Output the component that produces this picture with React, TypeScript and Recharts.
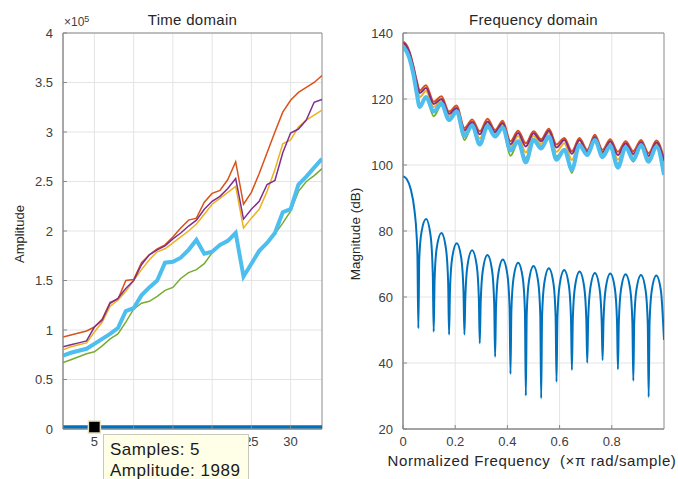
import React from 'react';
import {
  LineChart,
  Line,
  XAxis,
  YAxis,
  CartesianGrid,
  Tooltip,
  ReferenceDot,
  ReferenceArea,
} from 'recharts';

const FONT = '"Liberation Sans", Arial, Helvetica, sans-serif';

// ---------------- Time domain (amplitude in units of 1e5) ----------------
const samples = [1, 2, 3, 4, 5, 6, 7, 8, 9, 10, 11, 12, 13, 14, 15, 16, 17, 18, 19, 20, 21, 22, 23, 24, 25, 26, 27, 28, 29, 30, 31, 32, 33, 34];
const AMP_SCALE = 100000;
const orangeT = [0.93, 0.95, 0.97, 0.99, 1.03, 1.11, 1.28, 1.31, 1.5, 1.51, 1.68, 1.76, 1.82, 1.86, 1.94, 2.03, 2.11, 2.13, 2.29, 2.38, 2.41, 2.52, 2.7, 2.27, 2.39, 2.58, 2.79, 3.0, 3.2, 3.32, 3.4, 3.45, 3.5, 3.57];
const purpleT = [0.83, 0.85, 0.87, 0.89, 1.03, 1.1, 1.27, 1.32, 1.42, 1.5, 1.66, 1.76, 1.81, 1.85, 1.92, 1.98, 2.05, 2.11, 2.22, 2.3, 2.35, 2.43, 2.53, 2.12, 2.22, 2.3, 2.47, 2.51, 2.79, 2.99, 3.03, 3.12, 3.3, 3.33];
const yellowT = [0.8, 0.83, 0.85, 0.87, 0.98, 1.08, 1.24, 1.3, 1.39, 1.5, 1.61, 1.71, 1.79, 1.82, 1.88, 1.94, 2.0, 2.07, 2.17, 2.27, 2.33, 2.39, 2.45, 2.03, 2.13, 2.22, 2.4, 2.62, 2.88, 2.92, 3.05, 3.12, 3.17, 3.22];
const cyanT = [0.74, 0.77, 0.79, 0.81, 0.86, 0.91, 0.96, 1.02, 1.19, 1.22, 1.35, 1.43, 1.5, 1.68, 1.69, 1.73, 1.81, 1.91, 1.77, 1.79, 1.86, 1.9, 1.98, 1.54, 1.67, 1.8, 1.88, 1.98, 2.19, 2.22, 2.47, 2.55, 2.64, 2.73];
const greenT = [0.67, 0.7, 0.73, 0.76, 0.78, 0.84, 0.91, 0.96, 1.08, 1.21, 1.27, 1.29, 1.34, 1.4, 1.43, 1.52, 1.58, 1.61, 1.67, 1.78, 1.85, 1.91, 1.96, 1.55, 1.67, 1.78, 1.88, 1.97, 2.08, 2.2, 2.4, 2.5, 2.56, 2.63];
const blueT = [1989, 1989, 1989, 1989, 1989, 1989, 1989, 1989, 1989, 1989, 1989, 1989, 1989, 1989, 1989, 1989, 1989, 1989, 1989, 1989, 1989, 1989, 1989, 1989, 1989, 1989, 1989, 1989, 1989, 1989, 1989, 1989, 1989, 1989];

const timeTicksX = [5, 10, 15, 20, 25, 30];
const ampTicks = [0, 50000, 100000, 150000, 200000, 250000, 300000, 350000, 400000];

const timeData = samples.map((n, i) => ({
  n,
  orange: Math.round(orangeT[i] * AMP_SCALE),
  yellow: Math.round(yellowT[i] * AMP_SCALE),
  purple: Math.round(purpleT[i] * AMP_SCALE),
  green: Math.round(greenT[i] * AMP_SCALE),
  cyan: Math.round(cyanT[i] * AMP_SCALE),
  blue: blueT[i],
}));

// ---------------- Frequency domain (dB) ----------------
const freqX = [0, 0.012, 0.025, 0.04, 0.052, 0.064, 0.088, 0.1176, 0.147, 0.1765, 0.206, 0.2353, 0.265, 0.2941, 0.324, 0.3529, 0.382, 0.4118, 0.441, 0.4706, 0.5, 0.5294, 0.559, 0.5882, 0.618, 0.6471, 0.676, 0.7059, 0.735, 0.7647, 0.794, 0.8235, 0.853, 0.8824, 0.912, 0.9412, 0.971, 1.0];
const orangeF = [137.4, 136.6, 134.4, 130.0, 125.8, 122.6, 124.2, 119.2, 120.8, 116.2, 118.0, 111.2, 113.8, 110.2, 114.0, 110.6, 113.4, 107.2, 110.4, 106.6, 110.2, 107.8, 111.0, 106.2, 108.2, 104.2, 108.2, 104.6, 109.2, 104.6, 107.8, 104.0, 107.2, 104.2, 107.6, 103.6, 107.4, 102.0];
const purpleF = [137.0, 136.2, 134.0, 129.5, 125.2, 121.8, 123.3, 118.5, 120.0, 115.5, 117.3, 110.5, 113.0, 109.3, 113.2, 110.0, 112.7, 106.3, 109.7, 105.6, 109.6, 107.2, 110.4, 105.3, 107.6, 103.4, 107.6, 104.0, 108.5, 103.9, 107.2, 103.0, 106.6, 103.4, 107.0, 102.8, 106.8, 101.2];
const yellowF = [136.6, 135.8, 133.4, 128.8, 124.4, 120.6, 122.4, 117.6, 119.4, 114.8, 116.8, 109.8, 112.8, 108.0, 112.8, 109.6, 112.2, 105.6, 108.8, 103.8, 108.8, 106.4, 109.8, 104.0, 106.6, 101.5, 107.4, 103.8, 108.4, 103.6, 106.8, 101.6, 106.2, 103.0, 106.8, 102.4, 106.4, 100.0];
const greenF = [135.8, 135.0, 132.6, 127.8, 122.4, 118.2, 120.6, 114.8, 118.2, 113.4, 116.0, 107.6, 112.0, 106.6, 111.6, 108.8, 111.4, 102.8, 107.0, 102.0, 107.8, 105.6, 108.4, 102.6, 104.8, 97.6, 106.4, 103.4, 107.6, 103.4, 105.8, 100.2, 105.2, 101.0, 105.8, 101.6, 105.8, 98.5];
const cyanF = [135.6, 134.6, 132.2, 127.4, 122.0, 117.6, 120.6, 116.2, 118.6, 113.6, 116.2, 108.8, 112.0, 106.2, 111.8, 108.6, 111.4, 104.4, 107.2, 100.8, 107.6, 105.0, 108.6, 101.6, 104.6, 98.6, 106.0, 103.0, 107.6, 102.4, 105.8, 99.2, 105.4, 101.6, 106.0, 101.0, 105.6, 97.0];

const blueFreqX = [
  0, 0.0147, 0.0294, 0.0441, 0.0518, 0.0553, 0.0588,
  0.0623, 0.0706, 0.0882, 0.1058, 0.1141, 0.1176,
  0.1211, 0.1294, 0.1471, 0.1647, 0.173, 0.1765,
  0.18, 0.1883, 0.2059, 0.2235, 0.2318, 0.2353,
  0.2388, 0.2471, 0.2647, 0.2824, 0.2906, 0.2941,
  0.2976, 0.3059, 0.3235, 0.3412, 0.3494, 0.3529,
  0.3564, 0.3647, 0.3824, 0.4, 0.4083, 0.4118,
  0.4153, 0.4236, 0.4412, 0.4588, 0.4671, 0.4706,
  0.4741, 0.4824, 0.5, 0.5176, 0.5259, 0.5294,
  0.5329, 0.5412, 0.5588, 0.5765, 0.5847, 0.5882,
  0.5917, 0.6, 0.6176, 0.6353, 0.6436, 0.6471,
  0.6506, 0.6589, 0.6765, 0.6941, 0.7024, 0.7059,
  0.7094, 0.7177, 0.7353, 0.7529, 0.7612, 0.7647,
  0.7682, 0.7765, 0.7941, 0.8118, 0.82, 0.8235,
  0.827, 0.8353, 0.8529, 0.8706, 0.8789, 0.8824,
  0.8859, 0.8941, 0.9118, 0.9294, 0.9377, 0.9412,
  0.9447, 0.9529, 0.9706, 0.9882, 1.0,
];
const blueFreqY = [
  96.6, 95.7, 92.7, 86.2, 79.1, 72.6, 50.5,
  71.5, 79.5, 83.6, 78.5, 67.0, 49.5,
  65.5, 75.0, 79.4, 74.6, 64.4, 48.6,
  62.0, 71.8, 76.3, 71.6, 61.6, 48.6,
  59.8, 69.6, 74.2, 69.6, 59.6, 46.0,
  58.3, 68.1, 72.7, 68.1, 58.1, 41.9,
  57.0, 66.8, 71.4, 66.8, 56.8, 36.7,
  56.0, 65.8, 70.4, 65.8, 55.8, 30.1,
  55.0, 64.8, 69.4, 64.8, 54.8, 29.3,
  54.3, 64.1, 68.7, 64.1, 54.1, 34.3,
  53.8, 63.6, 68.2, 63.6, 53.6, 37.9,
  53.3, 63.1, 67.7, 63.1, 53.1, 40.1,
  52.9, 62.7, 67.3, 62.7, 52.7, 40.9,
  52.7, 62.5, 67.1, 62.5, 52.5, 38.1,
  52.5, 62.3, 66.9, 62.3, 52.3, 34.6,
  52.3, 62.1, 66.7, 62.1, 52.1, 29.7,
  52.1, 61.9, 66.5, 61.9, 47.0,
];

const freqTicksX = [0, 0.2, 0.4, 0.6, 0.8];
const dbTicks = [20, 40, 60, 80, 100, 120, 140];

const freqData = freqX.map((f, i) => ({
  f,
  orange: orangeF[i],
  yellow: yellowF[i],
  purple: purpleF[i],
  green: greenF[i],
  cyan: cyanF[i],
}));
const blueFreqData = blueFreqX.map((f, i) => ({ f, v: blueFreqY[i] }));

// ---------------- styling ----------------
const C = {
  blue: '#0072BD',
  orange: '#D95319',
  yellow: '#EDB120',
  purple: '#7E2F8E',
  green: '#77AC30',
  cyan: '#4DBEEE',
};
const AXIS = '#8a8a8a';
const GRID = '#e4e4e4';
const TICK = { fill: '#404040', fontSize: 13, fontFamily: FONT };

const EmptyTick = () => <g />;

const SquareMarker = (props: any) => {
  const { cx, cy } = props;
  if (cx == null || cy == null) return <g />;
  return (
    <rect x={cx - 6} y={cy - 6} width={12} height={12} fill="#000" stroke="#e6dfc2" strokeWidth={1.5} />
  );
};

const DataTip = (props: any) => {
  const { active, payload, label } = props;
  if (!active || !payload || !payload.length) return null;
  const b = payload.find((p: any) => p.dataKey === 'blue');
  return (
    <div
      style={{
        background: '#FFFFE8',
        border: '1px solid #c9c9b8',
        width: 146,
        height: 52,
        boxSizing: 'border-box',
        padding: '4px 0 0 6px',
        fontFamily: FONT,
        fontSize: 17,
        letterSpacing: 0.5,
        lineHeight: '21px',
        color: '#1a1a1a',
        whiteSpace: 'nowrap',
      }}
    >
      <div>Samples: {label}</div>
      <div>Amplitude: {b ? b.value : ''}</div>
    </div>
  );
};

const textBase: React.CSSProperties = {
  position: 'absolute',
  fontFamily: FONT,
  color: '#262626',
  whiteSpace: 'nowrap',
};

export default function App() {
  return (
    <div style={{ position: 'absolute', left: 0, top: 0, width: 678, height: 479, background: '#fff', overflow: 'hidden' }}>
      {/* Left: time domain */}
      <div style={{ position: 'absolute', left: 0, top: 0 }}>
        <LineChart width={340} height={479} data={timeData} margin={{ top: 33, right: 18, bottom: 0, left: 0 }}>
          <CartesianGrid stroke={GRID} verticalValues={timeTicksX} horizontalValues={ampTicks} />
          <XAxis
            dataKey="n"
            type="number"
            domain={[1, 34]}
            ticks={timeTicksX}
            interval={0}
            allowDataOverflow
            height={50}
            tickSize={-4}
            tickMargin={12}
            stroke={AXIS}
            tick={TICK}
          />
          <XAxis
            xAxisId="top"
            orientation="top"
            type="number"
            domain={[1, 34]}
            ticks={timeTicksX}
            interval={0}
            allowDataOverflow
            height={0}
            tickSize={-4}
            axisLine={false}
            stroke={AXIS}
            tick={EmptyTick}
          />
          <YAxis
            type="number"
            domain={[0, 400000]}
            ticks={ampTicks}
            interval={0}
            allowDataOverflow
            width={63}
            tickSize={-4}
            tickMargin={14}
            stroke={AXIS}
            tick={TICK}
            tickFormatter={(v: number) => String(v / AMP_SCALE)}
          />
          <YAxis
            yAxisId="right"
            orientation="right"
            type="number"
            domain={[0, 400000]}
            ticks={ampTicks}
            interval={0}
            allowDataOverflow
            width={0}
            tickSize={-4}
            axisLine={false}
            stroke={AXIS}
            tick={EmptyTick}
          />
          <ReferenceArea x1={1} x2={34} y1={0} y2={400000} fill="none" stroke={AXIS} strokeWidth={1} />
          <Line type="linear" dataKey="orange" stroke={C.orange} strokeWidth={1.5} dot={false} activeDot={false} isAnimationActive={false} />
          <Line type="linear" dataKey="yellow" stroke={C.yellow} strokeWidth={1.5} dot={false} activeDot={false} isAnimationActive={false} />
          <Line type="linear" dataKey="purple" stroke={C.purple} strokeWidth={1.5} dot={false} activeDot={false} isAnimationActive={false} />
          <Line type="linear" dataKey="green" stroke={C.green} strokeWidth={1.5} dot={false} activeDot={false} isAnimationActive={false} />
          <Line type="linear" dataKey="cyan" stroke={C.cyan} strokeWidth={4} dot={false} activeDot={false} isAnimationActive={false} />
          <Line type="linear" dataKey="blue" stroke={C.blue} strokeWidth={3.5} dot={false} activeDot={false} isAnimationActive={false} />
          <ReferenceDot x={5} y={1989} shape={SquareMarker} />
          <Tooltip
            active
            defaultIndex={4}
            cursor={false}
            isAnimationActive={false}
            position={{ x: 103, y: 434 }}
            allowEscapeViewBox={{ x: true, y: true }}
            wrapperStyle={{ outline: 'none' }}
            content={DataTip}
          />
        </LineChart>
      </div>

      {/* Right: frequency domain */}
      <div style={{ position: 'absolute', left: 340, top: 0 }}>
        <LineChart width={338} height={479} data={freqData} margin={{ top: 33, right: 14, bottom: 0, left: 0 }}>
          <CartesianGrid stroke={GRID} verticalValues={freqTicksX} horizontalValues={dbTicks} />
          <XAxis
            dataKey="f"
            type="number"
            domain={[0, 1]}
            ticks={freqTicksX}
            interval={0}
            allowDataOverflow
            height={50}
            tickSize={-4}
            tickMargin={12}
            stroke={AXIS}
            tick={TICK}
            tickFormatter={(v: number) => String(v)}
          />
          <XAxis
            xAxisId="top"
            orientation="top"
            type="number"
            domain={[0, 1]}
            ticks={freqTicksX}
            interval={0}
            allowDataOverflow
            height={0}
            tickSize={-4}
            axisLine={false}
            stroke={AXIS}
            tick={EmptyTick}
          />
          <YAxis
            type="number"
            domain={[20, 140]}
            ticks={dbTicks}
            interval={0}
            allowDataOverflow
            width={63}
            tickSize={-4}
            tickMargin={14}
            stroke={AXIS}
            tick={TICK}
          />
          <YAxis
            yAxisId="right"
            orientation="right"
            type="number"
            domain={[20, 140]}
            ticks={dbTicks}
            interval={0}
            allowDataOverflow
            width={0}
            tickSize={-4}
            axisLine={false}
            stroke={AXIS}
            tick={EmptyTick}
          />
          <ReferenceArea x1={0} x2={1} y1={20} y2={140} fill="none" stroke={AXIS} strokeWidth={1} />
          <Line type="monotone" dataKey="orange" stroke={C.orange} strokeWidth={2} dot={false} activeDot={false} isAnimationActive={false} />
          <Line type="monotone" dataKey="yellow" stroke={C.yellow} strokeWidth={2} dot={false} activeDot={false} isAnimationActive={false} />
          <Line type="monotone" dataKey="purple" stroke={C.purple} strokeWidth={2} dot={false} activeDot={false} isAnimationActive={false} />
          <Line type="monotone" dataKey="green" stroke={C.green} strokeWidth={2} dot={false} activeDot={false} isAnimationActive={false} />
          <Line type="monotone" dataKey="cyan" stroke={C.cyan} strokeWidth={4} dot={false} activeDot={false} isAnimationActive={false} />
          <Line data={blueFreqData} type="monotone" dataKey="v" stroke={C.blue} strokeWidth={2} dot={false} activeDot={false} isAnimationActive={false} />
        </LineChart>
      </div>

      {/* Titles and labels */}
      <div style={{ ...textBase, left: 192.5, top: 11, fontSize: 15, lineHeight: '17px', transform: 'translateX(-50%)', letterSpacing: 0.3 }}>
        Time domain
      </div>
      <div style={{ ...textBase, left: 533.5, top: 11, fontSize: 15, lineHeight: '17px', transform: 'translateX(-50%)', letterSpacing: 0.3 }}>
        Frequency domain
      </div>
      <div style={{ ...textBase, left: 64, top: 15, fontSize: 12, lineHeight: '14px', color: '#404040' }}>
        ×10<sup style={{ fontSize: 9, verticalAlign: 'top', position: 'relative', top: -3 }}>5</sup>
      </div>
      <div
        style={{
          ...textBase,
          left: 19,
          top: 234,
          fontSize: 13,
          lineHeight: '15px',
          transform: 'translate(-50%, -50%) rotate(-90deg)',
        }}
      >
        Amplitude
      </div>
      <div
        style={{
          ...textBase,
          left: 355,
          top: 234,
          fontSize: 13.5,
          lineHeight: '15px',
          transform: 'translate(-50%, -50%) rotate(-90deg)',
        }}
      >
        Magnitude (dB)
      </div>
      <div style={{ ...textBase, left: 532, top: 452, fontSize: 15, lineHeight: '17px', transform: 'translateX(-50%)', letterSpacing: 0.6 }}>
        Normalized Frequency&nbsp;&nbsp;(×π rad/sample)
      </div>
    </div>
  );
}
